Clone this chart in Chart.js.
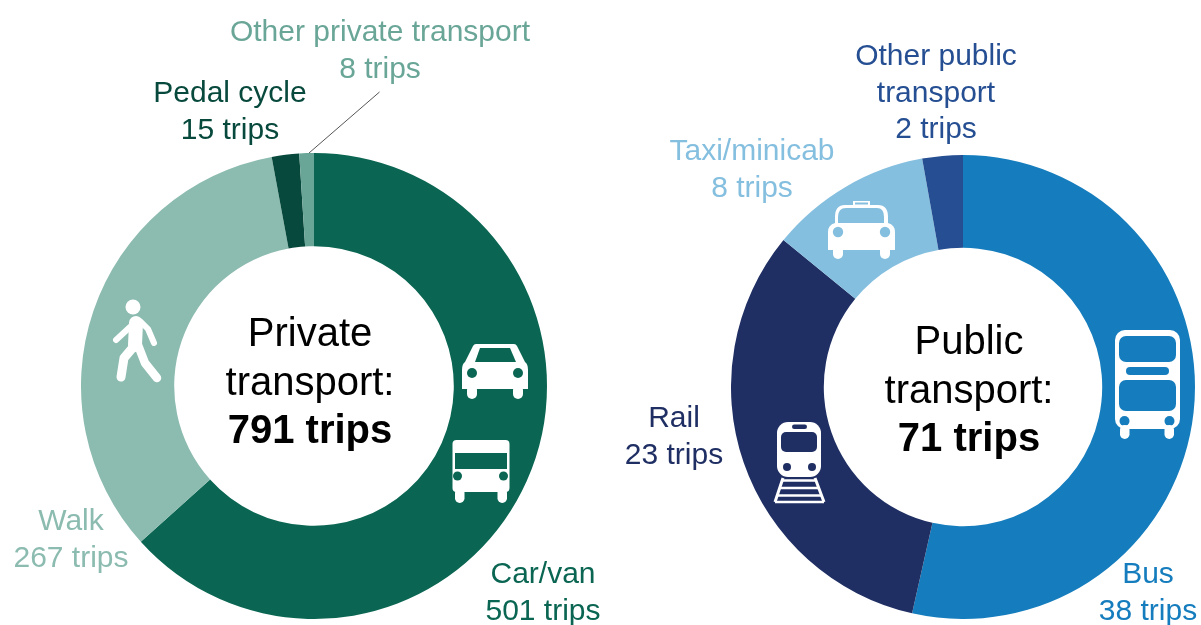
<!DOCTYPE html>
<html>
<head>
<meta charset="utf-8">
<script src="https://cdn.jsdelivr.net/npm/chart.js@4"></script>
<style>
html,body{margin:0;padding:0;background:#fff;overflow:hidden}
#stage{position:relative;width:1201px;height:625px;overflow:hidden;font-family:"Liberation Sans",Arial,sans-serif}
canvas{position:absolute}
svg{position:absolute;left:0;top:0}
.lab{position:absolute;transform:translateX(-50%);text-align:center;white-space:nowrap;font-size:30px;line-height:36.5px}
.mid{font-size:40px;line-height:48.5px;color:#000}
.mid b{font-size:40px}
</style>
</head>
<body>
<div id="stage">
<canvas id="c1" width="466" height="466" style="left:81px;top:153px;width:466px;height:466px"></canvas>
<canvas id="c2" width="464" height="464" style="left:731px;top:155px;width:464px;height:464px"></canvas>
<svg width="1201" height="625" viewBox="0 0 1201 625">
  <line x1="379.5" y1="92" x2="309" y2="153" stroke="#555" stroke-width="1"/>
  <!-- walker -->
  <g fill="none" stroke="#fff" stroke-linecap="round" stroke-linejoin="round">
    <path d="M130 327 L116 340" stroke-width="6"/>
    <path d="M141 322 L148 329 L154 343" stroke-width="6"/>
    <path d="M136 323 L135 345" stroke-width="14"/>
    <path d="M135 345 L124 358 L121 377" stroke-width="9"/>
    <path d="M138 345 L145 363 L157 378" stroke-width="8.5"/>
  </g>
  <circle cx="133" cy="307" r="7.5" fill="#fff"/>
  <!-- car -->
  <path d="M476 344 H514 Q516 344 517 346 L525 362 Q528 364 528 370 V389 H462 V370 Q462 364 465 362 L473 346 Q474 344 476 344Z" fill="#fff"/>
  <path d="M480 348 H510 L516 362 H475Z" fill="#0a6652"/>
  <circle cx="472" cy="373" r="5" fill="#0a6652"/><circle cx="518" cy="373" r="5" fill="#0a6652"/>
  <rect x="467" y="385" width="10" height="14" rx="5" fill="#fff"/><rect x="513" y="385" width="10" height="14" rx="5" fill="#fff"/>
  <!-- van -->
  <rect x="452.5" y="440" width="57" height="52" rx="4" fill="#fff"/>
  <rect x="455" y="453" width="52" height="16" fill="#0a6652"/>
  <circle cx="457.5" cy="476" r="4.5" fill="#0a6652"/><circle cx="503.5" cy="476" r="4.5" fill="#0a6652"/>
  <rect x="455" y="488" width="9.5" height="15" rx="4.7" fill="#fff"/><rect x="497.5" y="488" width="9.5" height="15" rx="4.7" fill="#fff"/>
  <!-- double decker -->
  <rect x="1115" y="330" width="65" height="99" rx="10" fill="#fff"/>
  <rect x="1119" y="336" width="57" height="26" rx="7" fill="#157dbd"/>
  <rect x="1126" y="367" width="43" height="8" rx="4" fill="#157dbd"/>
  <rect x="1119" y="380" width="57" height="31" rx="7" fill="#157dbd"/>
  <circle cx="1124.5" cy="421" r="5" fill="#157dbd"/><circle cx="1169.5" cy="421" r="5" fill="#157dbd"/>
  <rect x="1120" y="425" width="9.5" height="14" rx="4.7" fill="#fff"/><rect x="1164.5" y="425" width="9.5" height="14" rx="4.7" fill="#fff"/>
  <!-- train -->
  <rect x="777" y="422" width="44" height="55" rx="11" fill="#fff"/>
  <rect x="781" y="432" width="36" height="20" rx="5" fill="#1f2f63"/>
  <rect x="792" y="424.5" width="15" height="4.5" rx="2.2" fill="#1f2f63"/>
  <circle cx="787" cy="467" r="4" fill="#1f2f63"/><circle cx="812" cy="467" r="4" fill="#1f2f63"/>
  <path d="M783 478 L775 502 M815 478 L824 502" stroke="#fff" stroke-width="3" fill="none"/>
  <path d="M782 480.5 H816 M780 488 H818 M777 495.5 H821 M775 502 H824" stroke="#fff" stroke-width="2.4" fill="none"/>
  <!-- taxi -->
  <rect x="853" y="201" width="17" height="5" fill="#fff"/>
  <rect x="855" y="202.5" width="13" height="2" fill="#85bfdf"/>
  <path d="M845 205 H878 Q888 205 888 217 V223 Q895 225 895 232 V250 H828 V232 Q828 225 835 223 V217 Q835 205 845 205Z" fill="#fff"/>
  <path d="M846 208 H877 Q884 208 884 217 V223 H838 V217 Q838 208 846 208Z" fill="#85bfdf"/>
  <circle cx="838" cy="232" r="5.2" fill="#85bfdf"/><circle cx="885" cy="232" r="5.2" fill="#85bfdf"/>
  <rect x="833" y="245" width="10" height="14" rx="5" fill="#fff"/><rect x="880" y="245" width="10" height="14" rx="5" fill="#fff"/>
</svg>
<div id="labels"></div>
</div>
<script>
// Private transport
const privateCategories = ["Car/van", "Walk", "Pedal cycle", "Other private transport"];
const privateValues = [501, 267, 15, 8];
const privateColors = ["#0a6652", "#8cbbb0", "#07493c", "#6aa697"];
const privateTitle = "Private";
const privateTotal = 791;

// Public transport
const publicCategories = ["Bus", "Rail", "Taxi/minicab", "Other public transport"];
const publicValues = [38, 23, 8, 2];
const publicColors = ["#157dbd", "#1f2f63", "#85bfdf", "#254f92"];
const publicTitle = "Public";
const publicTotal = 71;

function donut(id, labels, data, colors) {
  return new Chart(document.getElementById(id), {
    type: "doughnut",
    data: { labels, datasets: [{ data, backgroundColor: colors, borderWidth: 0 }] },
    options: {
      responsive: false, animation: false, cutout: "60%",
      layout: { padding: 0 },
      plugins: { legend: { display: false }, tooltip: { enabled: false } }
    }
  });
}
donut("c1", privateCategories, privateValues, privateColors);
donut("c2", publicCategories, publicValues, publicColors);

const host = document.getElementById("labels");
function label(lines, x, y, color) {
  const d = document.createElement("div");
  d.className = "lab";
  d.style.left = x + "px"; d.style.top = y + "px"; d.style.color = color;
  d.innerHTML = lines.join("<br>");
  host.appendChild(d);
}
function centre(title, total, x, y) {
  const d = document.createElement("div");
  d.className = "lab mid";
  d.style.left = x + "px"; d.style.top = y + "px";
  d.innerHTML = title + "<br>transport:<br><b>" + total + " trips</b>";
  host.appendChild(d);
}
label([privateCategories[3], privateValues[3] + " trips"], 380, 13, privateColors[3]);
label([privateCategories[2], privateValues[2] + " trips"], 230, 74, privateColors[2]);
label([privateCategories[1], privateValues[1] + " trips"], 71, 502, privateColors[1]);
label([privateCategories[0], privateValues[0] + " trips"], 543, 555, privateColors[0]);
label(["Other public", "transport", publicValues[3] + " trips"], 936, 37, publicColors[3]);
label([publicCategories[2], publicValues[2] + " trips"], 752, 132, publicColors[2]);
label([publicCategories[1], publicValues[1] + " trips"], 674, 399, publicColors[1]);
label([publicCategories[0], publicValues[0] + " trips"], 1148, 555, publicColors[0]);
centre(privateTitle, privateTotal, 310, 308);
centre(publicTitle, publicTotal, 969, 316);
</script>
</body>
</html>
